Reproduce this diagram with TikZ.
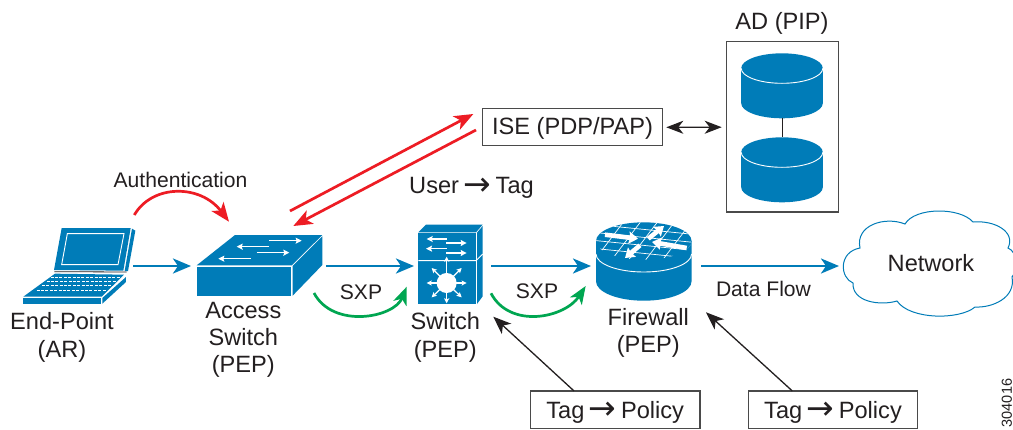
\documentclass[tikz,border=0pt]{standalone}
\usepackage{fontspec}
\setmainfont{Liberation Sans}
\newfontfamily\arrowfont{DejaVu Sans}
\usetikzlibrary{arrows.meta,calc}
\definecolor{ciscoblue}{HTML}{007CB8}
\definecolor{ink}{HTML}{231F20}
\definecolor{boxgrey}{HTML}{4A4A4A}
\definecolor{redline}{HTML}{ED1C24}
\definecolor{greenline}{HTML}{00A651}
\newcommand{\bigtext}{\fontsize{23.6}{27}\selectfont}
\newcommand{\smalltext}{\fontsize{21.1}{25}\selectfont}
\newcommand{\txtarrow}{{\arrowfont\fontsize{33}{27}\selectfont\raisebox{-1.6pt}{→}}}
\tikzset{
  icon/.style={inner sep=0pt,outer sep=0pt,draw=none},
  label/.style={text=ink,inner sep=0pt,outer sep=0pt,align=center,font=\bigtext},
  slabel/.style={text=ink,inner sep=0pt,outer sep=0pt,align=center,font=\smalltext},
  flow/.style={draw=ciscoblue,line width=2.7pt,-{Stealth[length=18pt,width=15pt,inset=5pt]}},
  redarrow/.style={draw=redline,line width=2.7pt,-{Stealth[length=19pt,width=15pt,inset=5pt]}},
  greenarrow/.style={draw=greenline,line width=2.7pt,-{Stealth[length=18pt,width=14pt,inset=5pt]}},
  blackarrow/.style={draw=ink,line width=1.3pt,-{Stealth[length=18pt,width=14pt,inset=5pt]}},
  bothways/.style={draw=ink,line width=1.3pt,{Stealth[length=17pt,width=13pt,inset=5pt]}-{Stealth[length=17pt,width=13pt,inset=5pt]}},
  infobox/.style={draw=boxgrey,line width=1.3pt,fill=white,inner sep=0pt,outer sep=0pt,text=ink,font=\bigtext,text depth=0pt},
  wline/.style={draw=white,line width=.9pt},
  warrow/.style={draw=white,line width=1.5pt,-{Stealth[length=6pt,width=6pt,inset=1pt]}},
  warrowthick/.style={draw=white,line width=4.6pt,-{Stealth[length=9pt,width=12pt,inset=1pt]}},
}
\begin{document}
\begin{tikzpicture}[x=1pt,y=-1pt]
\path[use as bounding box,clip] (0,0) rectangle (1013,429);
\fill[white] (0,0) rectangle (1013,429);

% --- invisible anchors for the icons
\node[icon,minimum width=110pt,minimum height=76pt] (laptop) at (78,266) {};
\node[icon,minimum width=135pt,minimum height=60pt] (access) at (258.5,266) {};
\node[icon,minimum width=77pt,minimum height=80pt] (core) at (452.5,266) {};
\node[icon,minimum width=110pt,minimum height=80pt] (fw) at (646,266) {};
\node[icon,minimum width=174pt,minimum height=80pt] (cloud) at (926,266) {};
\node[icon,minimum width=82pt,minimum height=65pt] (dbone) at (782,85.8) {};
\node[icon,minimum width=82pt,minimum height=65pt] (dbtwo) at (782,169.5) {};

% --- laptop
\begin{scope}[shift={(20,222)},x=.33333pt,y=-.33333pt]
\fill[ciscoblue] (125,18)--(332,18)--(310,146)--(102,144)--cycle;
\fill[ciscoblue] (336,20)--(346,26)--(324,147)--(314,147)--cycle;
\draw[wline] (142,35)--(312,35)--(294,128)--(125,128)--cycle;
\draw[draw=ink,line width=.8pt] (103,149)--(320,150);
\fill[ciscoblue] (105,155)--(312,158)--(245,224)--(10,224)--cycle;
\fill[ciscoblue] (318,165)--(318,180)--(247,245)--(247,228)--cycle;
\fill[ciscoblue] (8,228)--(243,228)--(243,245)--(8,245)--cycle;
\foreach \a/\b/\c in {92/302/165,80/290/177,66/276/190,50/258/204}
  \draw[white,line width=1pt,dash pattern=on 3pt off 1.4pt] (\a,\c)--(\b,\c);
\end{scope}

% --- access switch
\begin{scope}[shift={(0,210)},x=.33333pt,y=-.33333pt]
\fill[ciscoblue] (590,166)--(705,75)--(967,75)--(875,166)--cycle;
\fill[ciscoblue] (590,170)--(874,170)--(874,258)--(590,258)--cycle;
\fill[ciscoblue] (878,168)--(967,79)--(967,165)--(878,257)--cycle;
\draw[warrow] (808,92)--(905,92);
\draw[warrow] (808,110)--(710,110);
\draw[warrow] (770,128)--(868,128);
\draw[warrow] (752,146)--(655,146);
\end{scope}

% --- distribution switch
\begin{scope}[shift={(410,218)},x=.33333pt,y=-.33333pt]
\fill[ciscoblue] (25,43)--(48,20)--(218,20)--(198,43)--cycle;
\fill[ciscoblue] (25,46)--(197,46)--(197,258)--(25,258)--cycle;
\fill[ciscoblue] (201,44)--(218,24)--(218,235)--(201,258)--cycle;
\draw[wline] (25,128)--(198,128)--(218,108);
\draw[warrow] (110,63)--(50,63);
\draw[warrow] (108,75)--(170,75);
\draw[warrow] (110,92)--(48,92);
\draw[warrow] (108,105)--(170,105);
\foreach \tx/\ty in {110/116,110/256,50/195,170/195,65/150,155/150,65/238,155/238}
  \draw[draw=white,line width=1.2pt,-{Stealth[length=5pt,width=5pt,inset=1pt]}] (110,195)--(\tx,\ty);
\fill[white] (110,195) circle[radius=10pt];
\end{scope}

% --- firewall / router
\fill[ciscoblue] (596,241)--(596,281.3) arc[start angle=180,end angle=360,x radius=47.8pt,y radius=19.4pt]--(691.6,241)--cycle;
\fill[ciscoblue] (643.8,241) ellipse[x radius=47.8pt,y radius=18.7pt];
\draw[wline] (596,254) arc[start angle=180,end angle=360,x radius=47.8pt,y radius=18pt];
\begin{scope}
\clip (643.8,241) ellipse[x radius=47.8pt,y radius=18.7pt];
\foreach \i in {-3,...,4}
  \draw[wline,line width=.7pt] ({643+\i*17-16},262)--({643+\i*17+16},220);
\foreach \i in {-2,...,3}
  \draw[wline,line width=.7pt] (590,{228+\i*8-4})--(700,{228+\i*8+7});
\end{scope}
\draw[warrowthick] (605,234.7)--(638,238.7);
\draw[warrowthick] (648.3,238.7)--(664,226);
\draw[warrowthick] (640,245.3)--(625,258);
\draw[warrowthick] (686.7,248)--(652,242);

% --- AD databases
\foreach \t in {68.3,152.3}{
  \fill[ciscoblue] (741.2,\t)--(741.2,{\t+35}) arc[start angle=180,end angle=360,x radius=40.8pt,y radius=15pt]--(822.8,\t)--cycle;
  \fill[ciscoblue] (782,\t) ellipse[x radius=40.8pt,y radius=15pt];
  \draw[wline] (741.2,\t) arc[start angle=180,end angle=360,x radius=40.8pt,y radius=15pt];
}

% --- AD frame and label
\node[draw=boxgrey,line width=1.3pt,inner sep=0pt,outer sep=0pt,minimum width=112pt,minimum height=170.3pt] (adbox) at (782.7,126.9) {};
\node[label] (adlabel) at (782,23) {AD (PIP)};
\draw[draw=ink,line width=1pt] (dbone.south) -- (dbtwo.north);

% --- ISE
\node[infobox,text height=15pt,minimum width=179.6pt,minimum height=37.4pt] (ise) at (572.5,127) {ISE (PDP/PAP)};
\draw[bothways] ($(ise.east)+(4,0.3)$) -- ($(adbox.west)+(-5,0.3)$);
\node[label] (usertag) at (471.5,188) {User\hspace{4.5pt}\txtarrow\hspace{4.5pt}Tag};

% --- cloud
\draw[draw=ciscoblue,line width=1pt,fill=white]
  (853,283) .. controls (840,278) and (838,252) .. (860,248)
  .. controls (855,225) and (885,216) .. (905,224)
  .. controls (915,207) and (960,207) .. (973,222)
  .. controls (995,220) and (1016,232) .. (1008,248)
  .. controls (1018,252) and (1018,270) .. (1012,277)
  .. controls (1016,298) and (992,308) .. (975,307)
  .. controls (960,320) and (910,320) .. (897,301)
  .. controls (880,306) and (852,302) .. (853,283) -- cycle;
\node[label] (network) at (931,263) {Network};

% --- data-flow arrows
\draw[flow] (laptop.east) -- (access.west);
\draw[flow] (access.east) -- (core.west);
\draw[flow] (core.east) -- (fw.west);
\draw[flow] (fw.east) -- (cloud.west);

% --- red arrows
\draw[redarrow] ($(laptop.north east)+(1.3,-13)$) .. controls +(18,-31) and ($(access.north)+(-58,-52)$) .. ($(access.north)+(-29.5,-14.3)$);
\draw[redarrow] ($(access.north)+(31.5,-25)$) -- ($(ise.west)+(-9.4,-13)$);
\draw[redarrow] ($(ise.west)+(-6.7,3)$) -- ($(access.north)+(34.8,-10)$);

% --- green arrows
\draw[greenarrow] ($(access.east)+(-12,27)$) .. controls +(19,36) and ($(core.west)+(-20,52)$) .. ($(core.west)+(-7.3,20.7)$);
\draw[greenarrow] ($(core.east)+(0,27.3)$) .. controls +(19,36) and ($(fw.west)+(-26,52)$) .. ($(fw.west)+(-5.3,20)$);

% --- tag boxes
\node[infobox,text height=17pt,minimum width=169.7pt,minimum height=37.3pt] (tagone) at (615.2,409.6) {Tag\hspace{4.5pt}\txtarrow\hspace{4.5pt}Policy};
\node[infobox,text height=17pt,minimum width=169.4pt,minimum height=37.3pt] (tagtwo) at (833,409.6) {Tag\hspace{4.5pt}\txtarrow\hspace{4.5pt}Policy};
\node[icon,minimum width=1pt,minimum height=1pt] (swlabelanchor) at (493.3,316.7) {};
\node[icon,minimum width=1pt,minimum height=1pt] (fwlabelanchor) at (706,312.3) {};
\draw[blackarrow] ($(tagone.north)+(-41.2,0)$) -- (swlabelanchor.center);
\draw[blackarrow] ($(tagtwo.north)+(-40.7,0)$) -- (fwlabelanchor.center);

% --- labels
\node[label] (endpoint) at (62,337) {End-Point\\[1pt](AR)};
\node[label] (accesslabel) at (243.3,340) {Access\\Switch\\(PEP)};
\node[label] (corelabel) at (445.3,337.5) {Switch\\[1pt](PEP)};
\node[label] (fwlabel) at (648.3,332.5) {Firewall\\(PEP)};
\node[slabel] (authlabel) at (180.5,180) {Authentication};
\node[slabel] (sxpone) at (361,292) {SXP};
\node[slabel] (sxptwo) at (537,291.7) {SXP};
\node[slabel] (dataflow) at (763.5,289) {Data Flow};
\node[text=ink,inner sep=0pt,rotate=90,font=\fontsize{14.5}{16}\selectfont] (figid) at (1006.8,403) {304016};
\end{tikzpicture}
\end{document}
